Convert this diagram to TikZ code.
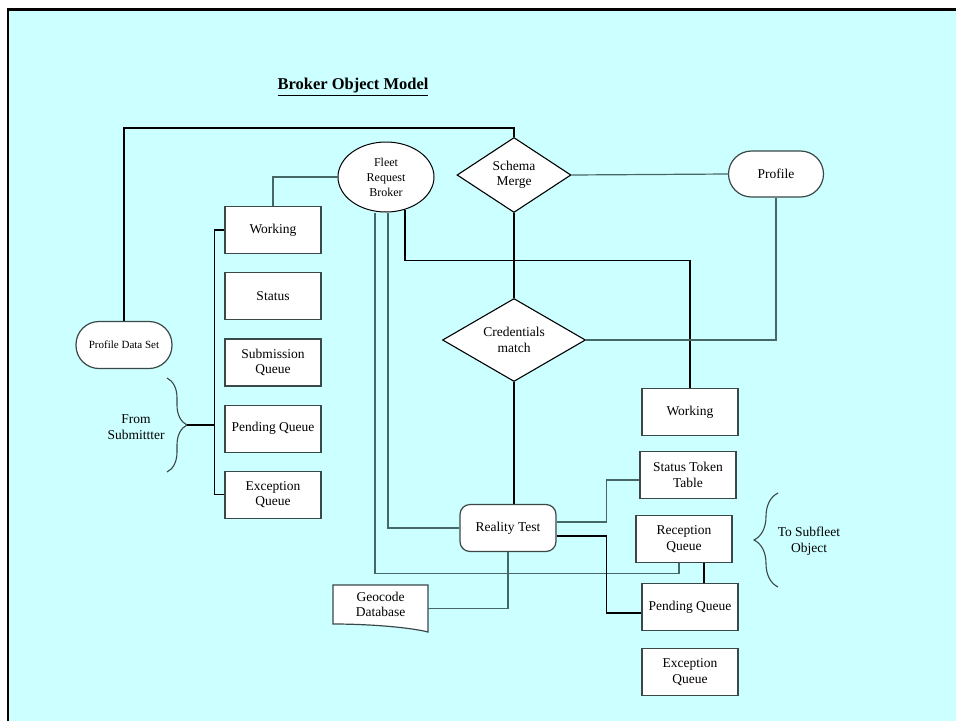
\documentclass[tikz,border=0pt]{standalone}
\usepackage{fontspec}
\setmainfont{Liberation Serif}
\usetikzlibrary{positioning,shapes.geometric,decorations.pathreplacing,calc}
\definecolor{panelcyan}{HTML}{CCFFFF}
\definecolor{wiregray}{HTML}{476666}
\definecolor{edgegray}{HTML}{3A4848}

\begin{document}
\begin{tikzpicture}[
  x=1pt,y=-1pt,
  font=\fontsize{13.5}{15.5}\selectfont,
  box/.style={draw=edgegray,line width=1.2pt,fill=white,align=center,minimum width=96pt,minimum height=47pt,inner sep=1pt},
  term/.style={box,rounded corners=23pt},
  decide/.style={diamond,aspect=1.5,draw=black,line width=1.1pt,fill=white,align=center,inner sep=0pt},
  wire/.style={draw=wiregray,line width=1.2pt},
  bwire/.style={draw=black,line width=1.1pt},
  curly/.style={draw=edgegray,line width=1.1pt,decorate,decoration={brace,amplitude=#1}}
]
\useasboundingbox (0,0) rectangle (956,721);
\fill[white] (0,0) rectangle (956,721);
\fill[panelcyan] (7,8) rectangle (956,721);
\draw[black,line width=2.5pt] (8,721) -- (8,9.25) -- (956,9.25);

\node[font=\fontsize{16.5}{18}\selectfont\bfseries] (title) at (353,87) {\underline{Broker Object Model}};

% submitter side
\node[box] (work) at (273,230) {Working};
\node[box, below=18pt of work] (stat) {Status};
\node[box, below=18pt of stat] (subq) {Submission\\Queue};
\node[box, below=18pt of subq] (pendq) {Pending Queue};
\node[box, below=18pt of pendq] (excq) {Exception\\Queue};
\node[term, font=\fontsize{11}{13}\selectfont] (pds) at (124,345) {Profile Data Set};
\node[align=center] (fromlbl) at (136,427) {From\\Submittter};
\coordinate (fromtip) at (187,425);
\draw[curly=20pt] (167,378) -- (167,472);

% broker core
\node[ellipse,draw=black,line width=1pt,fill=white,minimum width=96pt,minimum height=70pt,inner sep=0pt,align=center,font=\fontsize{12}{15}\selectfont] (frb) at (386,177) {Fleet\\Request\\Broker};
\node[decide,minimum width=114pt,minimum height=75pt] (schema) at (514,175) {Schema\\Merge};
\node[decide,minimum width=143pt,minimum height=83pt] (cred) at (514,340) {Credentials\\match};
\node[term,minimum width=95pt,minimum height=46pt] (prof) at (776,174) {Profile};
\node[box,rounded corners=10pt] (rt) at (508,528) {Reality Test};

% subfleet side
\node[box] (workr) at (690,412) {Working};
\node[box] (sttab) at (688,475) {Status Token\\Table};
\node[box] (recq) at (684,539) {Reception\\Queue};
\node[box] (pendr) at (690,607) {Pending Queue};
\node[box] (excr) at (690,672) {Exception\\Queue};
\node[align=center] (tolbl) at (809,541) {To Subfleet\\Object};
\draw[curly=24pt] (778,587) -- (778,493);

% geocode document
\coordinate (geoc) at (380.5,604.5);
\draw[edgegray,line width=1.2pt,fill=white] ($(geoc)+(-47.5,19.5)$) -- ++(0,-39) -- ++(95,0) -- ++(0,47)
  .. controls ($(geoc)+(30,23)$) and ($(geoc)+(-10,19.5)$) .. ($(geoc)+(-47.5,19.5)$) -- cycle;
\node[align=center,inner sep=0pt,minimum width=95pt,minimum height=39pt] (geo) at (geoc) {Geocode\\Database};

% connectors
\coordinate (bus) at ($(work.west)+(-10,0)$);
\draw[bwire] (work.west) -- (bus) |- (excq.west);
\draw[bwire] (fromtip) -- (fromtip -| bus);
\draw[bwire] (pds.north) |- ($(schema.north)+(0,-9)$) -- (schema.north);
\draw[wire] (frb.west) -| (work.north);
\draw[wire] ([xshift=-11pt]frb.south) -- ++(0,361) -| ([xshift=-5pt]recq.south);
\draw[wire] ([xshift=2pt]frb.south) |- (rt.west);
\draw[bwire] ([xshift=19pt,yshift=3pt]frb.south) -- ++(0,51) -| (workr.north);
\draw[bwire] (schema.south) -- (cred.north);
\draw[wire] (schema.east) -- (prof.west);
\draw[wire] (prof.south) |- (cred.east);
\draw[bwire] (cred.south) -- (cred.south |- rt.north);
\draw[wire] ([yshift=6pt]rt.east) -- ++(50,0) |- ([yshift=-5pt]sttab.west);
\draw[bwire] ([yshift=-8pt]rt.east) -- ++(50,0) |- ([yshift=-6pt]pendr.west);
\draw[wire] (rt.south) |- ([yshift=-4pt]geo.east);
\draw[bwire] ([xshift=20pt]recq.south) -- ([xshift=20pt]recq.south |- pendr.north);
\end{tikzpicture}
\end{document}
